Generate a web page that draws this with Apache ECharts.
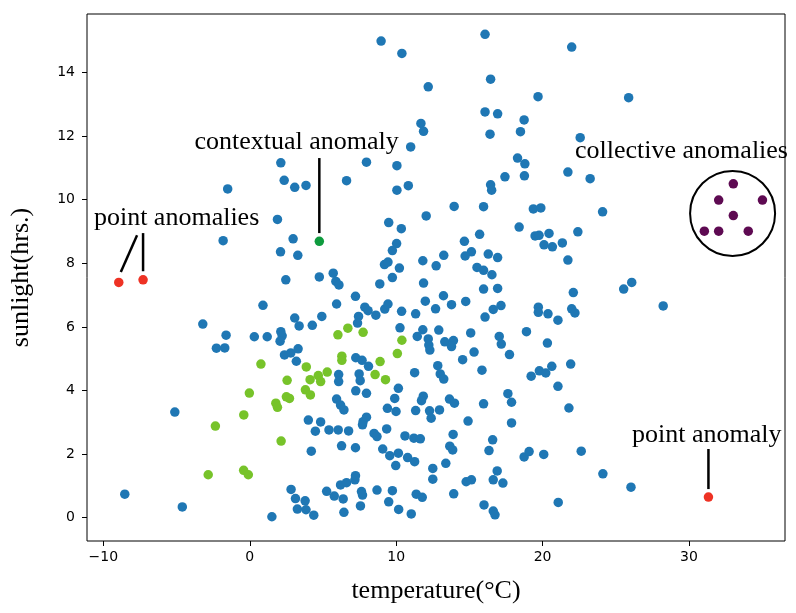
<!DOCTYPE html>
<html>
<head>
<meta charset="utf-8">
<script src="https://cdn.jsdelivr.net/npm/echarts@6/dist/echarts.min.js"></script>
<style>html,body{margin:0;padding:0;background:#fff;}#chart{width:796px;height:613px;}</style>
</head>
<body>
<div id="chart"></div>
<script>
// ---- data ----
const xTicks = [-10, 0, 10, 20, 30];
const yTicks = [0, 2, 4, 6, 8, 10, 12, 14];

const normalPoints = [
[8.97,14.99],[10.39,14.60],[16.07,15.20],[16.45,13.79],[12.19,13.55],[19.69,13.24],[16.07,12.76],[16.93,12.70],[18.74,12.51],[11.69,12.40],[11.87,12.15],[16.41,12.06],[18.49,12.14],[10.99,11.66],
[21.99,14.80],[25.88,13.21],[22.57,11.95],
[2.12,11.16],[2.35,10.61],[3.07,10.39],[3.84,10.45],[-1.51,10.34],[1.89,9.38],[-1.82,8.71],[2.96,8.77],[2.10,8.36],[3.28,8.25],[2.46,7.48],[4.75,7.57],
[0.90,6.68],[-3.21,6.09],[-1.62,5.74],[0.31,5.69],[1.19,5.69],[2.12,5.85],[2.21,5.72],[2.07,5.55],[3.07,6.28],[3.37,6.03],[4.27,6.05],[4.92,6.33],[-2.28,5.33],[-1.71,5.34],[2.37,5.12],[2.80,5.18],[3.30,5.31],[3.18,4.92],[-5.12,3.32],
[4.00,3.07],[4.84,3.01],[4.48,2.72],[4.20,2.09],[-8.54,0.74],[-4.61,0.34],[1.51,0.03],[2.82,0.89],[3.12,0.60],[3.78,0.53],[3.25,0.27],[3.84,0.25],[4.37,0.08],
[18.29,11.31],[18.79,11.13],[18.76,10.75],[17.43,10.72],[7.97,11.18],[10.05,11.07],[6.61,10.60],[10.05,10.30],[10.83,10.44],[16.45,10.47],[16.52,10.30],[13.96,9.79],[15.97,9.78],[19.37,9.71],[19.88,9.74],[12.05,9.49],[9.49,9.28],[10.35,9.09],[18.40,9.14],[19.49,8.86],[19.76,8.88],[20.44,8.94],[20.10,8.58],[20.67,8.52],[14.66,8.69],[15.70,8.91],[10.03,8.62],[9.74,8.40],[15.14,8.36],[14.71,8.23],[16.29,8.29],[16.93,8.18],[13.25,8.25],[11.82,8.08],[12.73,7.92],[9.20,7.96],[9.44,8.04],[10.22,7.85],[9.74,7.55],[15.52,7.87],[15.97,7.78],[16.54,7.64],[5.70,7.69],[5.88,7.43],[6.09,7.32],[8.88,7.35],[11.87,7.38],
[7.22,6.96],[5.93,6.72],[7.86,6.62],[8.08,6.51],[8.61,6.37],[9.22,6.56],[9.44,6.72],[10.37,6.49],[11.33,6.41],[11.99,6.81],[12.69,6.57],[13.23,6.98],[13.78,6.70],[14.75,6.80],[15.97,7.19],[16.93,7.21],[16.63,6.55],[17.16,6.67],[16.07,6.31],[19.71,6.62],[19.71,6.46],[20.37,6.41],[21.05,6.21],[7.43,6.33],[7.36,6.12],[10.26,5.97],[11.82,5.91],[12.91,5.90],[11.44,5.70],[12.19,5.62],[12.23,5.43],[12.30,5.27],[13.32,5.53],[13.91,5.57],[13.78,5.38],[15.09,5.81],[15.32,5.21],[14.54,4.97],[17.04,5.70],[17.18,5.46],[17.74,5.13],[18.90,5.85],[20.33,5.49],[7.24,5.03],[7.67,4.95],[8.11,4.76],[12.84,4.78],[13.01,4.52],[13.25,4.36],[11.26,4.56],[15.86,4.64],[6.07,4.50],[6.07,4.28],[7.47,4.52],[7.54,4.31],[7.24,3.99],[7.97,3.91],[10.15,4.07],[9.90,3.75],[11.85,3.82],[11.73,3.68],[13.64,3.73],[13.98,3.60],[15.97,3.58],[17.63,3.90],[17.88,3.63],[19.22,4.45],[19.78,4.62],[20.22,4.55],[20.63,4.76],[21.05,4.13],[5.93,3.73],[6.20,3.54],[6.43,3.39],[9.40,3.44],[9.99,3.34],[11.33,3.37],[12.28,3.36],[12.96,3.39],
[26.09,7.40],[25.54,7.19],[22.10,7.08],[21.99,6.57],[22.21,6.44],[28.24,6.66],[21.92,4.83],[21.80,3.45],
[21.73,10.87],[23.25,10.66],[24.10,9.62],[22.41,8.99],[21.35,8.64],[21.73,8.10],
[7.74,3.02],[7.97,3.16],[7.70,2.92],[12.39,3.13],[14.91,3.04],[17.88,2.98],[5.41,2.76],[6.04,2.76],[6.75,2.73],[6.27,2.26],[7.22,2.20],[8.49,2.65],[8.69,2.55],[9.35,2.79],[10.60,2.57],[11.21,2.50],[11.65,2.48],[13.89,2.62],[16.59,2.45],[16.34,2.11],[13.66,2.25],[13.86,2.13],[9.08,2.16],[9.56,1.95],[10.15,2.03],[9.97,1.64],[10.78,1.89],[11.26,1.76],[12.50,1.55],[13.39,1.71],[12.50,1.21],[18.74,1.91],[19.08,2.08],[20.08,1.99],[16.90,1.47],[16.63,1.19],[17.29,1.09],[14.78,1.13],[15.14,1.19],[13.93,0.75],[5.25,0.83],[5.77,0.68],[6.38,0.59],[6.20,1.03],[6.61,1.10],[7.18,1.19],[7.22,1.32],[7.63,0.82],[7.70,0.71],[8.69,0.87],[9.74,0.85],[9.49,0.50],[7.56,0.37],[6.43,0.17],[10.17,0.26],[11.03,0.12],[11.37,0.74],[11.78,0.64],[16.00,0.40],[16.63,0.21],[16.75,0.09],[21.07,0.48],
[22.64,2.09],[24.12,1.38],[26.04,0.96]
];

const seasonalPoints = [
[0.76,4.83],[3.86,4.74],[2.55,4.32],[4.12,4.34],[4.68,4.47],[4.84,4.28],[-0.03,3.92],[3.80,4.02],[4.14,3.86],[2.50,3.80],[2.71,3.75],[1.78,3.60],[1.89,3.47],[-0.41,3.23],[-2.35,2.88],[2.14,2.41],[-2.84,1.35],[-0.42,1.49],[-0.10,1.35],
[6.02,5.75],[6.70,5.96],[7.74,5.83],[10.39,5.58],[10.08,5.16],[6.29,5.08],[6.29,4.95],[8.90,4.91],[5.29,4.58],[8.56,4.50],[9.27,4.34]
];

const contextualPoints = [[4.75, 8.69]];
const pointAnomalies = [[-8.95, 7.40], [-7.29, 7.48], [31.33, 0.65]];
const collectivePoints = [[33.03,10.50],[32.03,9.99],[35.02,9.99],[33.03,9.50],[31.05,9.01],[32.03,9.01],[34.05,9.01]];
const collectiveCircle = [[32.98, 9.57]];

// annotation texts (data coords of text centre / baseline) and their leader lines
const annotationTexts = [
  {text: 'contextual anomaly', pos: [3.20, 11.56]},
  {text: 'point anomalies', pos: [-5.0, 9.17]},
  {text: 'collective anomalies', pos: [29.49, 11.28]},
  {text: 'point anomaly', pos: [31.22, 2.35]}
];
const annotationLines = [
  [[4.75, 11.31], [4.75, 8.95]],
  [[-7.70, 8.88], [-8.81, 7.73]],
  [[-7.29, 8.95], [-7.29, 7.75]],
  [[31.33, 2.16], [31.33, 0.90]]
];

// ---- chart ----
const chart = echarts.init(document.getElementById('chart'), null, {renderer: 'canvas'});
const serif = '"Liberation Serif", "DejaVu Serif", serif';
const minusFmt = v => (v < 0 ? '\u2212' + Math.abs(v) : String(v));

const option = {
  animation: false,
  backgroundColor: '#fff',
  grid: {left: 84, right: 11, top: 14, bottom: 72, show: true, borderColor: '#000', borderWidth: 1, backgroundColor: 'transparent'},
  xAxis: {
    type: 'value', min: -11.12, max: 36.56,
    axisLine: {show: false, onZero: false},
    splitLine: {show: false},
    axisTick: {show: true, length: 5, inside: false, customValues: xTicks, lineStyle: {color: '#000', width: 1}},
    axisLabel: {customValues: xTicks, formatter: minusFmt, margin: 9, color: '#000', fontSize: 14, fontFamily: '"DejaVu Sans", sans-serif'},
    name: 'temperature(°C)', nameLocation: 'middle', nameGap: 37,
    nameTextStyle: {fontFamily: serif, fontSize: 26, color: '#000'}
  },
  yAxis: {
    type: 'value', min: -0.733, max: 15.84,
    axisLine: {show: false, onZero: false},
    splitLine: {show: false},
    axisTick: {show: true, length: 5, inside: false, customValues: yTicks, lineStyle: {color: '#000', width: 1}},
    axisLabel: {customValues: yTicks, formatter: minusFmt, margin: 12, color: '#000', fontSize: 14, fontFamily: '"DejaVu Sans", sans-serif'},
    name: 'sunlight(hrs.)', nameLocation: 'middle', nameGap: 53,
    nameTextStyle: {fontFamily: serif, fontSize: 26, color: '#000'}
  },
  series: [
    {type: 'scatter', data: normalPoints, symbolSize: 9.5, itemStyle: {color: '#1f77b4', opacity: 1}, silent: true},
    {type: 'scatter', data: seasonalPoints, symbolSize: 9.5, itemStyle: {color: '#77c32a', opacity: 1}, silent: true},
    {type: 'scatter', data: contextualPoints, symbolSize: 9.5, itemStyle: {color: '#0e9b3e', opacity: 1}, silent: true},
    {type: 'scatter', data: pointAnomalies, symbolSize: 9.5, itemStyle: {color: '#ee3224', opacity: 1}, silent: true},
    {type: 'scatter', data: collectivePoints, symbolSize: 9.5, itemStyle: {color: '#5e0a52', opacity: 1}, silent: true},
    {type: 'scatter', data: collectiveCircle, symbolSize: 85, itemStyle: {color: 'transparent', borderColor: '#000', borderWidth: 2, opacity: 1}, silent: true, z: 3}
  ]
};
chart.setOption(option);

const toPx = p => chart.convertToPixel({xAxisIndex: 0, yAxisIndex: 0}, p);
const graphics = [];
annotationLines.forEach(seg => {
  const a = toPx(seg[0]), b = toPx(seg[1]);
  graphics.push({type: 'line', shape: {x1: a[0], y1: a[1], x2: b[0], y2: b[1]}, style: {stroke: '#000', lineWidth: 2.5}, silent: true, z: 10});
});
annotationTexts.forEach(t => {
  const p = toPx(t.pos);
  graphics.push({type: 'text', x: p[0], y: p[1] - 8, style: {text: t.text, font: '26px ' + serif, fill: '#000', align: 'center', verticalAlign: 'middle'}, silent: true, z: 10});
});
chart.setOption({graphic: graphics});
</script>
</body>
</html>
